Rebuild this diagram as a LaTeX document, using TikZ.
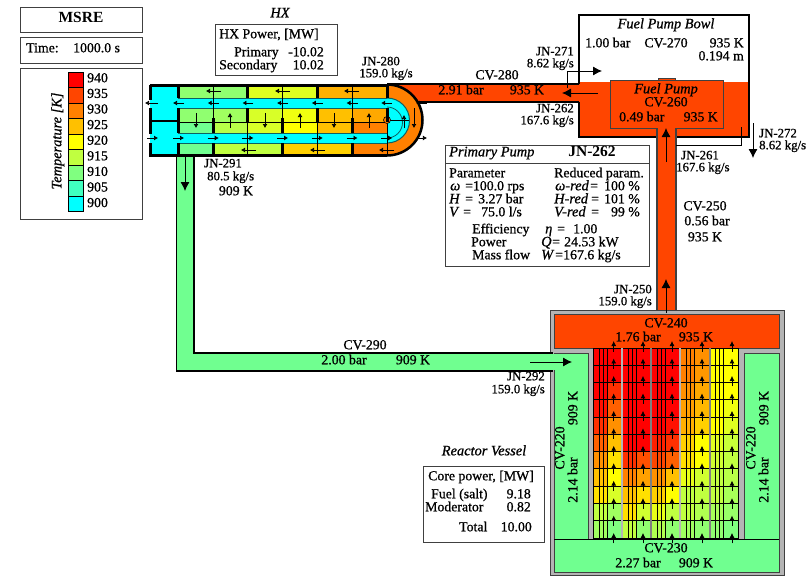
\documentclass[tikz,border=0pt]{standalone}
\usepackage{fontspec}
\setmainfont{Liberation Serif}
\newfontfamily\semi[UprightFeatures={FakeBold=0.8},ItalicFeatures={FakeBold=0.8}]{Liberation Serif}
\usetikzlibrary{arrows.meta}
\newcommand{\dc}[1]{\definecolor{#1}{HTML}{#1}}
\dc{FF0000}\dc{FF1000}\dc{FF2000}\dc{FF3000}\dc{FF4500}\dc{FF5000}\dc{FF6000}\dc{FF8000}\dc{FF9000}\dc{FF9800}\dc{FFA000}\dc{FFA800}\dc{FFB000}\dc{FFB800}\dc{FFC000}\dc{FFD000}\dc{FFE000}\dc{FFFF00}\dc{F0FF10}\dc{E8FF18}\dc{E0FF20}\dc{D8FF28}\dc{D0FF30}\dc{C8FF38}\dc{C0FF40}\dc{B8FF48}\dc{B0FF50}\dc{A8FF58}\dc{A0FF60}\dc{98FF68}\dc{90FF70}\dc{80FF80}\dc{70FF90}\dc{40FFC0}\dc{00FFFF}
\definecolor{panel}{HTML}{404040}
\definecolor{vessel}{HTML}{B4B4B4}
\definecolor{tubeln}{HTML}{106060}
\colorlet{pipeC}{70FF90}
\tikzset{
  lab/.style={inner sep=0pt,anchor=mid,font=\fontsize{13.8}{14}\semi},
  labl/.style={lab,anchor=mid west},
  labr/.style={lab,anchor=mid east},
  sml/.style={inner sep=0pt,anchor=mid,font=\fontsize{12.8}{13}\semi},
  smll/.style={sml,anchor=mid west},
  smlr/.style={sml,anchor=mid east},
  itl/.style={inner sep=0pt,anchor=mid,font=\fontsize{14.4}{15}\semi\itshape},
  box/.style={draw=panel,fill=white,line width=1pt},
  wall/.style={draw=black,line width=3pt},
  part/.style={draw=black,line width=1pt},
  big/.style={-{Latex[length=9pt,width=9pt]},line width=0.8pt,black},
  midarr/.style={-{Latex[length=5pt,width=5pt]},line width=0.8pt,black},
  tiny/.style={-{Latex[length=4pt,width=5pt]},line width=0.7pt,black},
}
\newcommand{\chan}[3]{%
  \foreach \c [count=\i from 0] in {#2}
    \fill[\c] (#1+14,{348+17.27*\i}) rectangle (#1+29,{348+17.27*(\i+1)});
  \foreach \c [count=\i from 0] in {#3}
    \fill[\c] (#1,{348+17.27*\i}) rectangle (#1+14,{348+17.27*(\i+1)});
  \foreach \d in {0,6,10,14}
    \draw[line width=0.8pt] (#1+\d,348) -- (#1+\d,538);
}
\begin{document}
\begin{tikzpicture}[x=1pt,y=-1pt,line cap=butt]
\useasboundingbox (0,0) rectangle (807,576);
\fill[white] (0,0) rectangle (807,576);

% title boxes
\draw[box] (20.5,7) rectangle (142,32);
\node[inner sep=0pt,anchor=mid,font=\fontsize{15.5}{16}\bfseries] (title) at (81,20.5) {MSRE};
\draw[box] (20.5,37) rectangle (142,63);
\node[labl] (timeL) at (26,50) {Time:};
\node[labl] (timeV) at (73,50) {1000.0 s};
\draw[box] (20.5,68) rectangle (142,219);
\foreach \c/\t [count=\i from 0] in {FF0000/940,FF4500/935,FF8000/930,FFC000/925,FFFF00/920,C0FF40/915,80FF80/910,40FFC0/905,00FFFF/900}{
  \fill[\c] (68.5,{72+15.5*\i}) rectangle (83,{72+15.5*(\i+1)});
  \draw[line width=0.7pt] (68.5,{72+15.5*\i}) rectangle (83,{72+15.5*(\i+1)});
  \node[labl] (leg\t) at (87,{80+15.6*\i}) {\t};
}
\node[itl,rotate=90] (legT) at (59,141) {Temperature [K]};

% HX info
\node[itl] (hxT) at (280,15) {HX};
\draw[box] (215,24) rectangle (337,75);
\node[labl] (hxP) at (219,36) {HX Power, [MW]};
\node[labl] (hxA) at (234,54) {Primary};
\node[labr] (hxAv) at (324,54) {-10.02};
\node[labl] (hxB) at (219,67) {Secondary};
\node[labr] (hxBv) at (324,67) {10.02};

% pipes
\fill[FF4500] (387,84) rectangle (585,102);
\draw[black,line width=2pt] (387,84) -- (580,84) (415,102) -- (580,102);
\fill[pipeC] (177,155) rectangle (194,353);
\fill[pipeC] (177,353) rectangle (553,371);
\draw[part,line width=1.3pt] (176.5,155) -- (176.5,371) -- (553,371) (194,155) -- (194,353) -- (553,353);

% HX shell
\foreach \a/\b/\c/\p/\q in {
  178/247/90FF70/86/98, 247/317/E0FF20/86/98, 317/387/FFB000/86/98,
  178/213/90FF70/108/122, 213/247/A0FF60/108/122, 247/282/D8FF28/108/122, 282/317/F0FF10/108/122, 317/352/FFC000/108/122, 352/387/FFA800/108/122,
  178/213/70FF90/122/133, 213/247/B8FF48/122/133, 247/282/D8FF28/122/133, 282/317/FFFF00/122/133, 317/352/FFC000/122/133, 352/387/FF8000/122/133,
  178/213/70FF90/143/155, 213/282/C0FF40/143/155, 282/352/FFD000/143/155, 352/387/FF8000/143/155}
  \fill[\c] (\a,\p) rectangle (\b,\q);
% U-bend
\fill[FF8000] (387,84) arc[start angle=90,end angle=-90,radius=36pt] -- cycle;
\fill[00FFFF] (387,98) arc[start angle=90,end angle=-90,radius=22.5pt] -- cycle;
\draw[tubeln,line width=1pt] (387,98) arc[start angle=90,end angle=-90,radius=22.5pt];
\draw[tubeln,line width=0.8pt] (387,107) arc[start angle=90,end angle=-90,radius=15.5pt];
% tubes
\fill[00FFFF] (178,98) rectangle (387,108);
\fill[00FFFF] (178,133) rectangle (387,143);
\draw[tubeln,line width=1pt] (178,98) -- (387,98) (178,108) -- (387,108) (178,133) -- (387,133) (178,143) -- (387,143);
\draw[line width=0.5pt] (178,122) -- (387,122);
\draw[line width=0.6pt] (387,120) -- (409,120) (387,120) -- (387,155);
\filldraw[fill=FF8000,draw=black,line width=0.6pt] (387,120) circle[radius=3.5pt];
% plenums
\fill[00FFFF] (150,86) rectangle (178,155);
\draw[line width=2.5pt] (150,121) -- (178,121);
\draw[wall] (150,84.5) -- (150,100) (150,108) -- (150,134) (150,143) -- (150,156.5);
\draw[wall] (150,85.5) -- (387,85.5) (150,155) -- (387,155);
\draw[wall] (178,85) -- (178,98) (178,108) -- (178,133) (178,143) -- (178,155);
\foreach \x in {247,317,387} \draw[wall] (\x,85) -- (\x,98) (\x,108) -- (\x,122);
\foreach \x in {213,282,352} \draw[wall] (\x,118) -- (\x,133) (\x,143) -- (\x,155);
\foreach \x in {213,282,352} \draw[line width=0.5pt] (\x,86) -- (\x,118);
\foreach \x in {247,317} \draw[line width=0.5pt] (\x,122) -- (\x,155);
\draw[line width=2.5pt] (387,84.5) arc[start angle=90,end angle=-90,radius=35.5pt];
% HX arrows
\foreach \x in {206,275,344} \draw[tiny] (\x+15,91) -- (\x,91);
\foreach \x in {241,310,379} \draw[tiny] (\x+15,150) -- (\x,150);
\foreach \i in {0,...,7} \draw[tiny] ({173+34.7*\i+11},103) -- ({173+34.7*\i},103);
\draw[tiny] (158,103) -- (145,103);
\foreach \i in {0,...,7} \draw[tiny] ({173+34.7*\i},138) -- ({173+34.7*\i+11},138);
\draw[tiny] (147,138) -- (158,138);
\foreach \x in {196,265,334} \draw[tiny] (\x,113) -- (\x,128);
\foreach \x in {230,300,369} \draw[tiny] (\x,128) -- (\x,113);
\draw[tiny] (404,128) -- (404,115);
\draw[tiny] (414,108) -- (414,128);

% labels near HX
\node[sml] (jn280) at (381,63) {JN-280};
\node[sml] (jn280m) at (386,75) {159.0 kg/s};
\node[smll] (jn291) at (204,165) {JN-291};
\node[smll] (jn291m) at (207,178) {80.5 kg/s};
\node[lab] (jn291t) at (236,193) {909 K};
\coordinate (a291s) at (185,157); \coordinate (a291e) at (185,191);
\draw[big] (a291s) -- (a291e);
\node[lab] (cv280) at (497,77) {CV-280};
\node[lab] (cv280p) at (461,92) {2.91 bar};
\node[lab] (cv280t) at (527,92) {935 K};
\node[lab] (cv290) at (365,347) {CV-290};
\node[lab] (cv290p) at (344,362) {2.00 bar};
\node[lab] (cv290t) at (413,362) {909 K};

% Bowl
\fill[white] (579,15) rectangle (749,82);
\fill[FF4500] (579,82) rectangle (749,137);
\draw[black,line width=1.5pt] (579,84) -- (579,15) -- (749,15) -- (749,137) -- (676,137) (657,137) -- (579,137) -- (579,102);
\filldraw[fill=FF4500,draw=panel,line width=0.8pt] (658,78) rectangle (675,81);
\filldraw[fill=FF4500,draw=panel,line width=1pt] (610,80) rectangle (723,128);
\node[itl] (fpb) at (666,26) {Fuel Pump Bowl};
\node[labl] (bowlp) at (585,45) {1.00 bar};
\node[lab] (bowln) at (666,45) {CV-270};
\node[labr] (bowlt) at (744,45) {935 K};
\node[labr] (bowll) at (744,58) {0.194 m};
\node[itl] (fp) at (666,91) {Fuel Pump};
\node[lab] (fpn) at (666,104) {CV-260};
\node[labl] (fpp) at (619,119) {0.49 bar};
\node[labr] (fpt) at (718,119) {935 K};
% riser
\fill[FF4500] (657,128) rectangle (676,315);
\draw[panel,line width=1.3pt] (657,128) -- (657,314) (676,128) -- (676,314);
% pump panel
\draw[box] (445,145) rectangle (649.5,266.5);
\draw[panel,line width=1pt] (445,163) -- (649.5,163);
\node[itl,anchor=mid west] (pp) at (449,154) {Primary Pump};
\node[inner sep=0pt,anchor=mid,font=\fontsize{15.5}{16}\bfseries] (ppn) at (592,154) {JN-262};
\node[labl] (pa) at (449,175) {Parameter};
\node[labl] (pb) at (554,175) {Reduced param.};
\node[itl,anchor=mid west] (p1a) at (450,188) {ω};
\node[labl] (p1b) at (465,188) {=100.0 rps};
\node[itl,anchor=mid west] (p2a) at (449,201) {H};
\node[labl] (p2b) at (465,201) {=};
\node[labl] (p2c) at (478,201) {3.27 bar};
\node[itl,anchor=mid west] (p3a) at (449,214) {V};
\node[labl] (p3b) at (463,214) {=};
\node[labl] (p3c) at (481,214) {75.0 l/s};
\node[itl,anchor=mid west] (r1a) at (555,188) {ω-red};
\node[labl] (r1b) at (590,188) {=};
\node[labr] (r1c) at (640,188) {100 \%};
\node[itl,anchor=mid west] (r2a) at (554,201) {H-red};
\node[labl] (r2b) at (591,201) {=};
\node[labr] (r2c) at (640,201) {101 \%};
\node[itl,anchor=mid west] (r3a) at (554,214) {V-red};
\node[labl] (r3b) at (591,214) {=};
\node[labr] (r3c) at (640,214) {99 \%};
\node[labl] (e1) at (472,231) {Efficiency};
\node[itl,anchor=mid west] (e2) at (545,231) {η};
\node[labl] (e3) at (557,231) {=};
\node[labl] (e4) at (573,231) {1.00};
\node[labl] (w1) at (471,244) {Power};
\node[itl,anchor=mid west] (w2) at (541,244) {Q};
\node[labl] (w3) at (552,244) {=};
\node[labl] (w4) at (564,244) {24.53 kW};
\node[labl] (m1) at (472,257) {Mass flow};
\node[itl,anchor=mid west] (m2) at (541,257) {W};
\node[labl] (m3) at (555,257) {=};
\node[labl] (m4) at (563,257) {167.6 kg/s};

% labels around bowl
\node[smlr] (jn271) at (574,53) {JN-271};
\node[smlr] (jn271m) at (574,65) {8.62 kg/s};
\node[smlr] (jn262) at (574,110) {JN-262};
\node[smlr] (jn262m) at (574,122) {167.6 kg/s};
\node[smll] (jn272) at (759,135) {JN-272};
\node[smll] (jn272m) at (759,147) {8.62 kg/s};
\node[smll] (jn261) at (681,157) {JN-261};
\node[smll] (jn261m) at (676,169) {167.6 kg/s};
\node[lab] (cv250) at (705,208) {CV-250};
\node[lab] (cv250p) at (707,223) {0.56 bar};
\node[lab] (cv250t) at (705,239) {935 K};
\node[smlr] (jn250) at (652,291) {JN-250};
\node[smlr] (jn250m) at (652,303) {159.0 kg/s};

% Vessel
\filldraw[fill=vessel,draw=panel,line width=1pt] (550,310) rectangle (784,575);
\filldraw[fill=FF4500,draw=panel,line width=1pt] (554,314) rectangle (779,348);
\filldraw[fill=pipeC,draw=panel,line width=1pt] (554,353) rectangle (588,539);
\filldraw[fill=pipeC,draw=panel,line width=1pt] (744,353) rectangle (779,539);
\fill[pipeC] (545,353.7) rectangle (554.5,370.3);
\draw[part,line width=1.3pt] (545,353) -- (553,353) (545,371) -- (553,371);
\chan{593}{FF0000,FF0000,FF3000,FF6000,FF9000,FFC000,FFE000,FFFF00,D8FF28,A0FF60,80FF80}{FF0000,FF0000,FF0000,FF1000,FF3000,FF6000,FF9000,FFC000,FFE000,C0FF40,A0FF60}
\chan{622}{FF0000,FF0000,FF0000,FF0000,FF0000,FF0000,FF5000,FFA000,FFE000,D0FF30,90FF70}{FF0000,FF0000,FF0000,FF0000,FF0000,FF0000,FF3000,FF8000,FFC000,FFE000,C0FF40}
\chan{651}{FF0000,FF0000,FF0000,FF0000,FF1000,FF3000,FF6000,FFC000,FFFF00,C0FF40,90FF70}{FF0000,FF0000,FF0000,FF0000,FF0000,FF2000,FF4500,FF9000,FFD000,E8FF18,B0FF50}
\chan{680}{FF9000,FF9800,FFA800,FFB800,FFD000,FFFF00,FFFF00,D0FF30,C0FF40,B0FF50,90FF70}{FF8000,FF8000,FF9000,FFA000,FFB000,FFD000,FFE000,E8FF18,C0FF40,C0FF40,A0FF60}
\chan{709.5}{FFFF00,FFFF00,FFFF00,F0FF10,E0FF20,C8FF38,C0FF40,B8FF48,A8FF58,98FF68,80FF80}{FFFF00,FFFF00,FFFF00,FFFF00,FFFF00,E0FF20,D0FF30,C0FF40,C0FF40,A8FF58,90FF70}
\foreach \i in {0,...,11} \draw[line width=0.9pt] (593,{348+17.27*\i}) -- (738.5,{348+17.27*\i});
\draw[line width=0.9pt] (593,348) -- (593,538) (738.5,348) -- (738.5,538);
\foreach \x/\c/\w in {622/vessel/1.2,651/gray/1.6,680/vessel/1.2,710/gray/1.8} \draw[\c,line width=\w pt] (\x,348) -- (\x,538);
\filldraw[fill=pipeC,draw=panel,line width=1pt] (554,539) rectangle (779,572);
\draw[line width=1pt] (554,539) -- (779,539);
\foreach \x in {613.7,643,672,702,732}
  \foreach \i in {0,...,11}
    \draw[midarr] (\x,{341+17.45*\i+10.5}) -- (\x,{341+17.45*\i});
\coordinate (a292s) at (530,362); \coordinate (a292e) at (572,362);
\draw[big] (a292s) -- (a292e);

% vessel texts
\node[lab] (cv240) at (666,325) {CV-240};
\node[lab] (cv240p) at (638,339) {1.76 bar};
\node[lab] (cv240t) at (696,339) {935 K};
\node[lab] (cv230) at (666,550) {CV-230};
\node[lab] (cv230p) at (638,565) {2.27 bar};
\node[lab] (cv230t) at (696,565) {909 K};
\foreach \x/\n in {0/a,191/b}{
  \node[lab,rotate=90] (cv220\n) at (562+\x,448) {CV-220};
  \node[lab,rotate=90] (cv220p\n) at (575+\x,480) {2.14 bar};
  \node[lab,rotate=90] (cv220t\n) at (575+\x,408) {909 K};
}
\node[smlr] (jn292) at (545,378) {JN-292};
\node[smlr] (jn292m) at (545,391) {159.0 kg/s};

% Core power
\node[itl] (rv) at (484,453) {Reactor Vessel};
\draw[box] (423,466) rectangle (544,542);
\node[labl] (cp) at (428,478) {Core power, [MW]};
\node[labl] (cf) at (431,496) {Fuel (salt)};
\node[labr] (cfv) at (531,496) {9.18};
\node[labl] (cm) at (425,509) {Moderator};
\node[labr] (cmv) at (531,509) {0.82};
\node[labl] (ct) at (459,529) {Total};
\node[labr] (ctv) at (532,529) {10.00};

% pump bowl arrows
\coordinate (a262s) at (598,93); \coordinate (a262e) at (562,93);
\draw[big] (a262s) -- (a262e);
\coordinate (a271s) at (567,88); \coordinate (a271b) at (567,71); \coordinate (a271e) at (602,71);
\draw[big] (a271s) -- (a271b) -- (a271e);
\coordinate (a261s) at (666,162); \coordinate (a261e) at (666,128);
\draw[big] (a261s) -- (a261e);
\coordinate (a250s) at (666,313); \coordinate (a250e) at (666,279);
\draw[big] (a250s) -- (a250e);
\coordinate (a272a) at (741,127); \coordinate (a272b) at (741,145); \coordinate (a272c) at (676,145);
\draw[line width=0.8pt] (a272a) -- (a272b) -- (a272c);
\coordinate (a272s) at (753,123); \coordinate (a272e) at (753,158);
\draw[big] (a272s) -- (a272e);
\end{tikzpicture}
\end{document}
